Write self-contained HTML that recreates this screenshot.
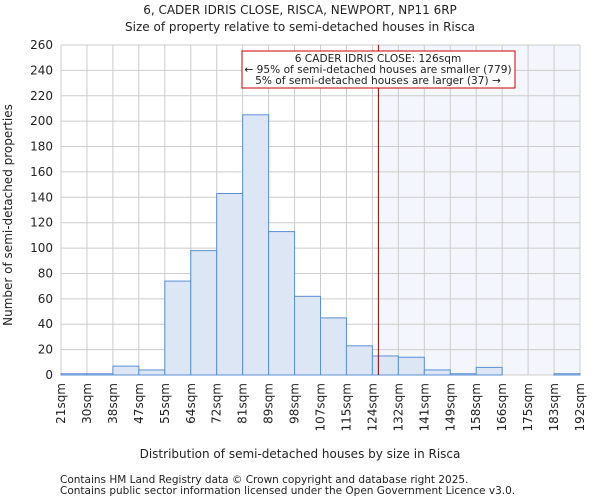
<!DOCTYPE html>
<html><head><meta charset="utf-8"><style>
body{margin:0;background:#fff;font-family:"DejaVu Sans","Liberation Sans",sans-serif;}
svg text{font-family:"DejaVu Sans","Liberation Sans",sans-serif;fill:#222;}
</style></head><body>
<svg id="c" width="600" height="500" xmlns="http://www.w3.org/2000/svg">
<text x="300" y="14" text-anchor="middle" font-size="12">6, CADER IDRIS CLOSE, RISCA, NEWPORT, NP11 6RP</text>
<text x="300" y="31" text-anchor="middle" font-size="12">Size of property relative to semi-detached houses in Risca</text>
<g id="plot"></g>
<text x="300" y="458" text-anchor="middle" font-size="12">Distribution of semi-detached houses by size in Risca</text>
<text transform="translate(12,215) rotate(-90)" text-anchor="middle" font-size="12">Number of semi-detached properties</text>
<text x="60" y="483" font-size="10.5" fill="#444">Contains HM Land Registry data © Crown copyright and database right 2025.</text>
<text x="60" y="494" font-size="10.5" fill="#444">Contains public sector information licensed under the Open Government Licence v3.0.</text>
</svg>
<script>
const categories=["21sqm","30sqm","38sqm","47sqm","55sqm","64sqm","72sqm","81sqm","89sqm","98sqm","107sqm","115sqm","124sqm","132sqm","141sqm","149sqm","158sqm","166sqm","175sqm","183sqm","192sqm"];
const counts=[1,1,7,4,74,98,143,205,113,62,45,23,15,14,4,1,6,0,0,1];
const yTicks=[0,20,40,60,80,100,120,140,160,180,200,220,240,260];
const markerPos=12.23;
const X0=61,X1=580,Y0=375,Y1=45,YMAX=260;
const bw=(X1-X0)/counts.length;
const xs=i=>X0+i*bw, ys=v=>Y0-(v/YMAX)*(Y0-Y1);
const ns="http://www.w3.org/2000/svg",g=document.getElementById('plot');
function mk(t,a){const e=document.createElementNS(ns,t);for(const k in a)e.setAttribute(k,a[k]);g.appendChild(e);return e;}
const mx=xs(markerPos);
let e=mk('rect',{x:mx,y:Y1,width:X1-mx,height:Y0-Y1,fill:'#f3f6fd'});


yTicks.forEach(v=>{
 let l=mk('line',{x1:X0,x2:X1,y1:ys(v),y2:ys(v),stroke:'#ccc'});
 
 
 let t=mk('text',{x:X0-8,y:ys(v)+4,'text-anchor':'end','font-size':12});t.textContent=v;
 
 
});
categories.forEach((c,i)=>{
 let l=mk('line',{x1:xs(i),x2:xs(i),y1:Y1,y2:Y0,stroke:'#ccc'});
 
 
 let t=mk('text',{transform:`translate(${xs(i)+4},${Y0+8}) rotate(-90)`,'text-anchor':'end','font-size':12});t.textContent=c;
 
 
});
counts.forEach((v,i)=>{
 let r=mk('rect',{x:xs(i),y:ys(v),width:bw,height:Y0-ys(v),fill:'#dce6f4',stroke:'#5b8fd6','stroke-width':1});
 
 
});
e=mk('line',{x1:mx,x2:mx,y1:Y1,y2:Y0,stroke:'#8b0000','stroke-width':1});


e=mk('rect',{x:242,y:51,width:273,height:37,fill:'#fff',stroke:'#c00','stroke-width':1});


["6 CADER IDRIS CLOSE: 126sqm","← 95% of semi-detached houses are smaller (779)","5% of semi-detached houses are larger (37) →"].forEach((s,i)=>{
 let t=mk('text',{x:378,y:62+i*11,'text-anchor':'middle','font-size':10.6});t.textContent=s;
 
 
});
</script>
</body></html>
